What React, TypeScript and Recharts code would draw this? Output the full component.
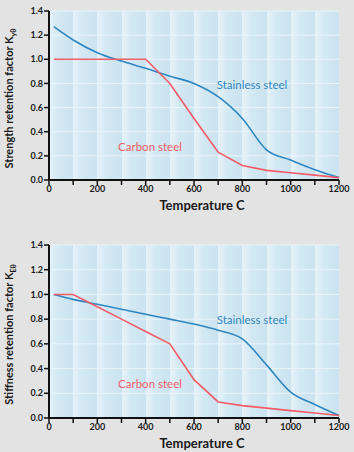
import React from 'react';
import { CartesianGrid, Line, LineChart, ReferenceDot, XAxis, YAxis } from 'recharts';

const temps = [20, 100, 200, 300, 400, 500, 600, 700, 800, 900, 1000, 1100, 1200];
const stainlessStrength = [1.27, 1.16, 1.055, 0.985, 0.925, 0.86, 0.8, 0.69, 0.51, 0.25, 0.165, 0.085, 0.02];
const carbonStrength = [1.0, 1.0, 1.0, 1.0, 1.0, 0.8, 0.51, 0.23, 0.12, 0.08, 0.06, 0.04, 0.02];
const stainlessStiffness = [1.0, 0.96, 0.92, 0.88, 0.84, 0.8, 0.76, 0.71, 0.64, 0.43, 0.21, 0.11, 0.02];
const carbonStiffness = [1.0, 1.0, 0.9, 0.8, 0.7, 0.6, 0.31, 0.13, 0.1, 0.08, 0.06, 0.04, 0.02];

const xTicks = [0, 100, 200, 300, 400, 500, 600, 700, 800, 900, 1000, 1100, 1200];
const yTicks = [0, 0.2, 0.4, 0.6, 0.8, 1.0, 1.2, 1.4];

const BLUE = '#2f86c0';
const RED = '#f25c68';
const FONT = 'Lato, "Open Sans", sans-serif';

const strengthData = temps.map((t, i) => ({ t, stainless: stainlessStrength[i], carbon: carbonStrength[i] }));
const stiffnessData = temps.map((t, i) => ({ t, stainless: stainlessStiffness[i], carbon: carbonStiffness[i] }));

type PanelProps = {
  data: { t: number; stainless: number; carbon: number }[];
  height: number;
  top: number;
  title: string;
  sub: string;
};

function Panel({ data, height, top, title, sub }: PanelProps) {
  const yLabel = (props: any) => {
    const vb = props.viewBox;
    const cx = 13;
    const cy = vb.y + vb.height / 2 + 3;
    return (
      <text
        x={cx}
        y={cy}
        transform={`rotate(-90, ${cx}, ${cy})`}
        textAnchor="middle"
        fontFamily={FONT}
        fontWeight={700}
        fontSize={11}
        fill="#1a1a1a"
      >
        {title}
        <tspan fontSize={7} dy={3}>{sub}</tspan>
      </text>
    );
  };

  const xLabel = (props: any) => {
    const vb = props.viewBox;
    return (
      <text
        x={vb.x + vb.width / 2 + 8}
        y={vb.y + 30}
        textAnchor="middle"
        fontFamily={FONT}
        fontWeight={700}
        fontSize={13}
        fill="#1a1a1a"
      >
        Temperature C
      </text>
    );
  };

  return (
    <LineChart
      width={354}
      height={height}
      data={data}
      margin={{ top, right: 15, left: 0, bottom: 0 }}
    >
      <defs>
        <linearGradient id="colFill" x1="0" y1="0" x2="1" y2="0">
          <stop offset="0%" stopColor="#e6f2f9" />
          <stop offset="40%" stopColor="#d2e8f3" />
          <stop offset="100%" stopColor="#cbe3f0" />
        </linearGradient>
      </defs>
      <CartesianGrid
        horizontal={false}
        stroke="none"
        verticalFill={['url(#colFill)']}
      />
      <CartesianGrid vertical={false} stroke="#eaf4fa" strokeWidth={1} />
      <XAxis
        dataKey="t"
        type="number"
        domain={[0, 1200]}
        ticks={xTicks}
        interval={0}
        tickFormatter={(v: number) => (v % 200 === 0 ? String(v) : '')}
        tick={{ fontSize: 9, fontWeight: 700, fill: '#1a1a1a', fontFamily: FONT }}
        tickSize={5}
        tickMargin={1}
        axisLine={{ stroke: '#111', strokeWidth: 2 }}
        tickLine={{ stroke: '#111', strokeWidth: 1.5 }}
        height={40}
        label={xLabel}
      />
      <YAxis
        type="number"
        domain={[0, 1.4]}
        ticks={yTicks}
        interval={0}
        tickFormatter={(v: number) => v.toFixed(1)}
        tick={{ fontSize: 9, fontWeight: 700, fill: '#1a1a1a', fontFamily: FONT }}
        tickSize={5}
        tickMargin={1}
        axisLine={{ stroke: '#111', strokeWidth: 2 }}
        tickLine={{ stroke: '#111', strokeWidth: 1.5 }}
        width={49}
        label={yLabel}
      />
      <Line type="monotone" dataKey="stainless" stroke={BLUE} strokeWidth={1.6} dot={false} isAnimationActive={false} />
      <Line type="linear" dataKey="carbon" stroke={RED} strokeWidth={1.6} dot={false} isAnimationActive={false} />
      <ReferenceDot
        x={840}
        y={0.79}
        r={0}
        stroke="none"
        label={{ value: 'Stainless steel', fill: BLUE, fontSize: 11.5, fontFamily: FONT, position: 'center' }}
      />
      <ReferenceDot
        x={418}
        y={0.275}
        r={0}
        stroke="none"
        label={{ value: 'Carbon steel', fill: RED, fontSize: 11.5, fontFamily: FONT, position: 'center' }}
      />
    </LineChart>
  );
}

export default function App() {
  return (
    <div
      style={{
        position: 'fixed',
        left: 0,
        top: 0,
        width: 354,
        height: 452,
        background: '#e3e3e3',
        overflow: 'hidden',
      }}
    >
      <div style={{ position: 'absolute', left: 0, top: 0 }}>
        <Panel data={strengthData} height={220} top={11} title="Strength retention factor K" sub="yθ" />
      </div>
      <div style={{ position: 'absolute', left: 0, top: 232 }}>
        <Panel data={stiffnessData} height={226} top={13} title="Stiffness retention factor K" sub="Eθ" />
      </div>
    </div>
  );
}
